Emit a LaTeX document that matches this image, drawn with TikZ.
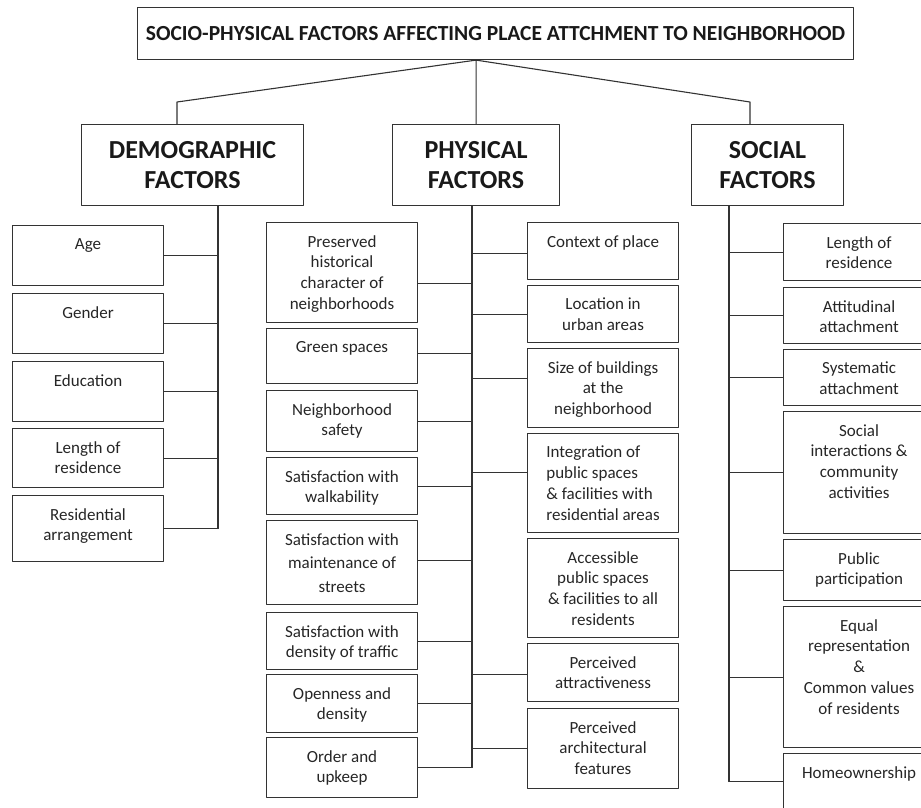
\documentclass[tikz,border=0pt]{standalone}
\usepackage{fontspec}
\setmainfont{Carlito}
\begin{document}
\begin{tikzpicture}[x=1pt, y=-1pt, line join=round, line cap=round,
  box/.style={draw=black!80, line width=1.1pt, inner sep=0pt, anchor=north west},
  head/.style={box, align=center, text=black!90, font=\fontsize{26}{30}\selectfont\bfseries},
  leaftext/.style={anchor=north, align=center, inner sep=0pt, yshift=-13pt, text=black!85, font=\fontsize{17}{20.8}\selectfont},
  link/.style={draw=black!80, line width=1.1pt}]
\useasboundingbox (0,0) rectangle (921,807);
\clip (0,0) rectangle (921,807);
\node[box, minimum width=716, minimum height=52, text=black!90, font=\fontsize{21.5}{25}\selectfont\bfseries] (title) at (137,7) {SOCIO-PHYSICAL FACTORS AFFECTING PLACE ATTCHMENT TO NEIGHBORHOOD};
\node[head, minimum width=222, minimum height=81] (demo) at (81,124) {DEMOGRAPHIC\\FACTORS};
\node[head, minimum width=167, minimum height=81] (phys) at (392,124) {PHYSICAL\\FACTORS};
\node[head, minimum width=152, minimum height=81] (soc) at (691,124) {SOCIAL\\FACTORS};
\path
(177,102) coordinate (dk)
(750,102) coordinate (sk)
(218,0) coordinate (ds)
(472,0) coordinate (ps)
(729,0) coordinate (ss)
;
\draw[link] (title.south -| phys.north) -- (dk) -- (dk |- demo.north)
  (title.south -| phys.north) -- (phys.north)
  (title.south -| phys.north) -- (sk) -- (sk |- soc.north);
% demographic
\foreach \n/\t/\h/\txt in {age/225/60/Age, gen/293/60/Gender, edu/361/60/Education,
  len/428/59/{Length of\\residence}, res/495/66/{Residential\\arrangement}}{
  \node[box, minimum width=151, minimum height=\h, label={[leaftext]north:\txt}] (\n) at (12,\t) {};
  \draw[link] (\n.east) -- (\n.east -| ds);
}
\draw[link] (demo.south -| ds) -- (res.east -| ds);
% physical, left
\foreach \n/\t/\h/\o/\txt in {pres/222/100/-11pt/{Preserved\\historical\\character of\\neighborhoods},
  green/328/55/3pt/Green spaces, safe/390/61/0pt/{Neighborhood\\safety},
  walk/457/57/0pt/{Satisfaction with\\walkability},
  main/520/84/2pt/{Satisfaction with\\[3pt]maintenance of\\[3pt]streets},
  traf/612/57/0pt/{Satisfaction with\\density of traffic},
  open/674/58/0pt/{Openness and\\density}, ord/737/60/0pt/{Order and\\upkeep}}{
  \node[box, minimum width=151, minimum height=\h, label={[leaftext]north:\txt}] (\n) at (266,\t) {};
  \draw[link] ([yshift=\o]\n.east) coordinate (k) -- (k -| ps);
}
% physical, right
\foreach \n/\t/\h/\o/\txt in {ctx/222/57/-2pt/Context of place, loc/285/57/0pt/{Location in\\urban areas},
  size/348/79/9.5pt/{Size of buildings\\at the\\neighborhood},
  attr/643/58/-2pt/{Perceived\\attractiveness}, arch/708/80/0pt/{Perceived\\architectural\\features}}{
  \node[box, minimum width=151, minimum height=\h, label={[leaftext]north:\txt}] (\n) at (527,\t) {};
  \draw[link] ([yshift=\o]\n.west) coordinate (k) -- (k -| ps);
}
\node[box, minimum width=151, minimum height=99, label={[leaftext, align=left]north:Integration of\\public spaces\\\& facilities with\\residential areas}] (integ) at (527,433) {};
\node[box, minimum width=151, minimum height=99, label={[leaftext]north:Accessible\\public spaces\\\& facilities to all\\residents}] (acc) at (527,538) {};
\draw[link] ([yshift=10.5pt]integ.west) coordinate (k) -- (k -| ps);
\draw[link] (phys.south -| ps) -- (ord.east -| ps);
% social
\foreach \n/\t/\h/\txt in {slen/223/57/{Length of\\residence}, att/287/56/{Attitudinal\\attachment},
  sys/349/56/{Systematic\\attachment}, inter/411/122/{Social\\interactions \&\\community\\activities},
  pub/539/61/{Public\\participation}, eq/606/141/{Equal\\representation\\\&\\Common values\\of residents},
  home/753/56/Homeownership}{
  \node[box, minimum width=151, minimum height=\h, label={[leaftext]north:\txt}] (\n) at (783,\t) {};
  \draw[link] (\n.west) -- (\n.west -| ss);
}
\draw[link] (soc.south -| ss) -- (home.west -| ss);
\end{tikzpicture}
\end{document}
